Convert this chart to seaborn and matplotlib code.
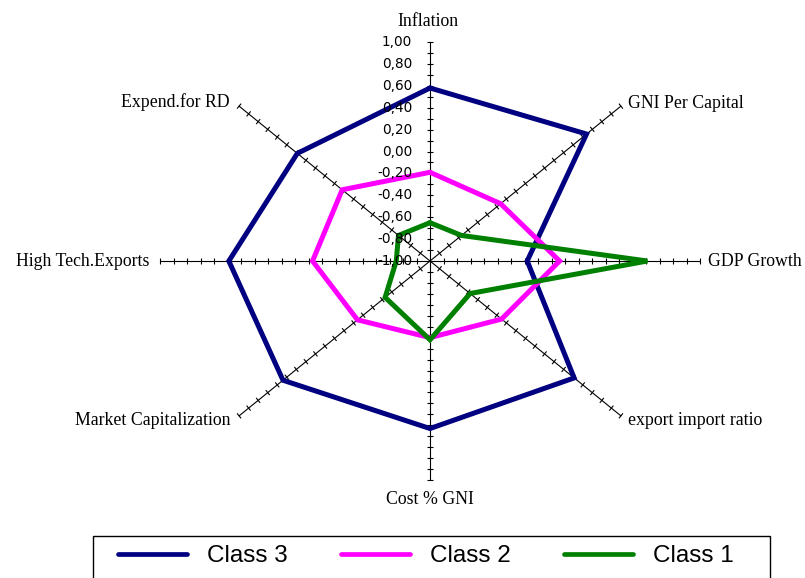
import numpy as np
import pandas as pd
import matplotlib
matplotlib.use("Agg")
import matplotlib.pyplot as plt
import matplotlib.transforms as mtransforms
from matplotlib.collections import LineCollection
from matplotlib.patches import Rectangle
from matplotlib.lines import Line2D
import seaborn as sns

# ---- data -------------------------------------------------------------
categories = ["Inflation", "GNI Per Capital", "GDP Growth", "export import ratio",
              "Cost % GNI", "Market Capitalization", "High Tech.Exports", "Expend.for RD"]
class3 = [0.58, 0.64, -0.28, 0.51, 0.53, 0.54, 0.49, 0.39]
class2 = [-0.19, -0.26, -0.04, -0.25, -0.30, -0.24, -0.13, -0.08]
class1 = [-0.65, -0.67, 0.61, -0.58, -0.28, -0.53, -0.75, -0.67]
series_names = ["Class 3", "Class 2", "Class 1"]
series_colors = ["#000080", "#FF00FF", "#008000"]
tick_values = [-1.0, -0.8, -0.6, -0.4, -0.2, 0.0, 0.2, 0.4, 0.6, 0.8, 1.0]
V_MIN, V_MAX = -1.0, 1.0

# ---- geometry (pixels) ------------------------------------------------
W, H, DPI = 805, 578, 100
CX, CY = 430, 261      # centre of the web, from the top-left corner
RX, RY = 270, 219      # horizontal / vertical radius of the web
N_MINOR = 20           # tick marks along each spoke

sns.set_theme(style="white")
plt.rcParams["font.family"] = ["DejaVu Sans"]
plt.rcParams["text.color"] = "black"

fig = plt.figure(figsize=(W / DPI, H / DPI), dpi=DPI)
ax = fig.add_axes([0, 0, 1, 1])
ax.set_xlim(-CX / RX, (W - CX) / RX)
ax.set_ylim(-(H - CY) / RY, CY / RY)
ax.axis("off")

n = len(categories)
angles = np.arange(n) * 2 * np.pi / n   # clockwise, starting at the top


def radius(v):
    return (np.asarray(v, dtype=float) - V_MIN) / (V_MAX - V_MIN)


# ---- spokes and their tick marks ---------------------------------------
segs = []
for a in angles:
    sx, sy = np.sin(a), np.cos(a)
    ax.plot([0, sx], [0, sy], color="black", lw=0.8, zorder=1)
    d = np.array([RX * sx, RY * sy])
    d /= np.hypot(*d)
    p = np.array([-d[1], d[0]]) * 3.2          # perpendicular, in pixels
    for k in range(1, N_MINOR + 1):
        r = k / N_MINOR
        x0, y0 = r * sx, r * sy
        segs.append([(x0 - p[0] / RX, y0 - p[1] / RY), (x0 + p[0] / RX, y0 + p[1] / RY)])
ax.add_collection(LineCollection(segs, colors="black", linewidths=0.8, zorder=1))

# ---- series polygons ---------------------------------------------------
rows = []
for name, vals in zip(series_names, [class3, class2, class1]):
    r = radius(vals)
    xs = list(r * np.sin(angles)) + [r[0] * np.sin(angles[0])]
    ys = list(r * np.cos(angles)) + [r[0] * np.cos(angles[0])]
    for i, (x, y) in enumerate(zip(xs, ys)):
        rows.append({"series": name, "order": i, "x": x, "y": y})
df = pd.DataFrame(rows)

sns.lineplot(data=df, x="x", y="y", hue="series", hue_order=series_names,
             palette=dict(zip(series_names, series_colors)), sort=False,
             estimator=None, linewidth=3.6, legend=False, ax=ax)
for i, line in enumerate(ax.lines[-3:]):
    line.set_solid_joinstyle("miter")
    line.set_zorder(2 + i)
ax.set_xlim(-CX / RX, (W - CX) / RX)
ax.set_ylim(-(H - CY) / RY, CY / RY)
ax.set_xlabel("")
ax.set_ylabel("")

# ---- value labels on the top spoke ------------------------------------
lab_tr = mtransforms.offset_copy(ax.transData, fig=fig, x=-18, y=0, units="dots")
for v in tick_values:
    ax.text(0, radius(v), f"{v:.2f}".replace(".", ","), transform=lab_tr,
            ha="right", va="center", fontsize=9.8, family="DejaVu Sans",
            color="black", zorder=6)

# ---- category labels ---------------------------------------------------
label_offsets = [(-2, 20, "center"), (7, 3, "left"), (8, 0, "left"), (7, -5, "left"),
                 (0, -20, "center"), (-9, -5, "right"), (-11, 0, "right"), (-9, 4, "right")]
for a, cat, (ox, oy, ha) in zip(angles, categories, label_offsets):
    tr = mtransforms.offset_copy(ax.transData, fig=fig, x=ox, y=oy, units="dots")
    ax.text(np.sin(a), np.cos(a), cat, transform=tr, ha=ha, va="center",
            fontsize=12.8, family="Liberation Serif", color="black", zorder=6)

# ---- legend ------------------------------------------------------------
handles = [Line2D([], [], color=c, lw=3.4, solid_capstyle="round") for c in series_colors]
leg = fig.legend(handles, series_names, loc="center left",
                 bbox_to_anchor=(118 / W, 1 - 556 / H), ncol=3, frameon=False,
                 borderpad=0, borderaxespad=0, handlelength=2.84, handletextpad=0.82,
                 columnspacing=2.2, prop={"family": "Liberation Sans", "size": 17.5})
for t in leg.get_texts():
    t.set_color("black")
fig.add_artist(Rectangle((93 / W, -0.05), (770 - 93) / W, 1 - 536 / H + 0.05,
                         transform=fig.transFigure, fill=False,
                         edgecolor="black", linewidth=1.0))

fig.savefig("out.png", dpi=DPI)
